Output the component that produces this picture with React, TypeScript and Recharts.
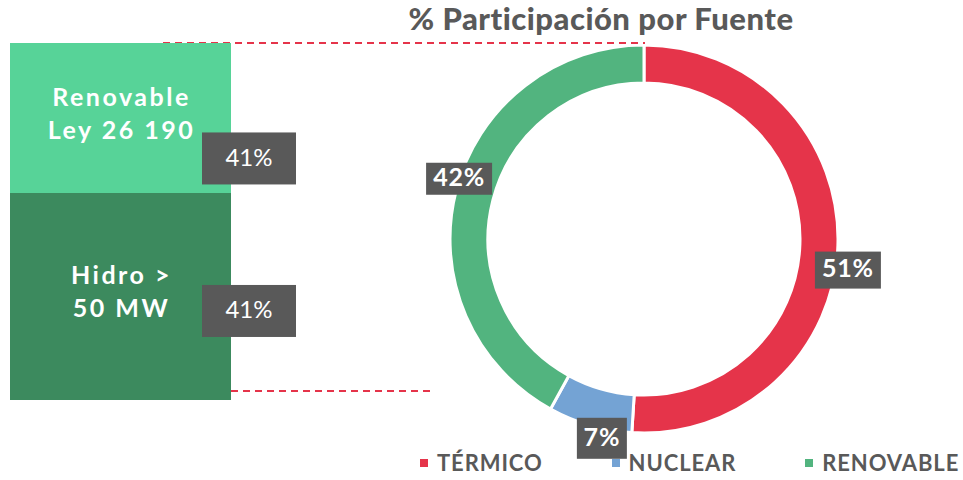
import React from 'react';
import { PieChart, Pie, Cell, Legend, BarChart, Bar, XAxis, YAxis, LabelList } from 'recharts';

// Donut data
const sourceNames = ['TÉRMICO', 'NUCLEAR', 'RENOVABLE'];
const sourceShares = [51, 7, 42];
const sourceColors = ['#E5344A', '#74A3D4', '#52B47F'];

// Left stacked bar (renewable breakdown)
const barCategory = ['Renovable'];
const hidroHeight = [58];
const leyHeight = [42];
const barNames = ['Hidro >|50 MW', 'Renovable|Ley 26 190'];
const barLabels = ['41%', '41%'];
const barColors = ['#3C8A5E', '#57D398'];

const TITLE = '% Participación por Fuente';
const FONT = 'Lato, "Open Sans", sans-serif';
const GRAY = '#595959';

const pieData = sourceNames.map((n, i) => ({ name: n, value: sourceShares[i] }));
const barData = barCategory.map((c, i) => ({ name: c, hidro: hidroHeight[i], ley: leyHeight[i] }));

const RADIAN = Math.PI / 180;
const labelNudge = [
  [10, 25],
  [12, 13],
  [3, -12],
];
const labelBoxH = [37, 41, 32];

const renderPieLabel = (props: any) => {
  const { cx, cy, midAngle, outerRadius, index, value } = props;
  const x = cx + outerRadius * Math.cos(-midAngle * RADIAN) + labelNudge[index][0];
  const y = cy + outerRadius * Math.sin(-midAngle * RADIAN) + labelNudge[index][1];
  const txt = `${value}%`;
  const w = txt.length * 16 + 18;
  const h = labelBoxH[index];
  return (
    <g key={`pl-${index}`}>
      <rect x={x - w / 2} y={y - h / 2} width={w} height={h} fill={GRAY} />
      <text x={x} y={y + 1} fill="#fff" fontSize={25} fontWeight={700} fontFamily={FONT} textAnchor="middle" dominantBaseline="middle" letterSpacing={0.8}>
        {txt}
      </text>
    </g>
  );
};

const makeBarLabel = (segIndex: number, boxFrac: number) => (props: any) => {
  const { x, y, width, height } = props;
  const lines = barNames[segIndex].split('|');
  const cxText = x + width / 2 + 1;
  const cyText = y + height / 2 - 2;
  const bw = 94;
  const bh = 52;
  const bx = x + width - 29;
  const by = y + height * boxFrac - bh / 2;
  return (
    <g>
      {lines.map((l, i) => (
        <text
          key={i}
          x={cxText}
          y={cyText + (i - (lines.length - 1) / 2) * 33}
          fill="#fff"
          fontSize={25}
          fontWeight={700}
          fontFamily={FONT}
          textAnchor="middle"
          dominantBaseline="middle"
          letterSpacing={2.5}
        >
          {l}
        </text>
      ))}
      <rect x={bx} y={by} width={bw} height={bh} fill={GRAY} />
      <text x={bx + bw / 2} y={by + bh / 2 + 1} fill="#fff" fontSize={24} fontWeight={400} fontFamily={FONT} textAnchor="middle" dominantBaseline="middle">
        {barLabels[segIndex]}
      </text>
    </g>
  );
};

const renderLegend = () => (
  <div style={{ display: 'flex', alignItems: 'center', fontFamily: FONT }}>
    {sourceNames.map((n, i) => (
      <div key={n} style={{ display: 'flex', alignItems: 'center', marginRight: 69 }}>
        <div style={{ width: 8, height: 8, background: sourceColors[i], marginRight: 9 }} />
        <span style={{ color: GRAY, fontSize: 22, fontWeight: 700, lineHeight: '24px', letterSpacing: 0.9 }}>{n}</span>
      </div>
    ))}
  </div>
);

export default function App() {
  return (
    <div style={{ position: 'absolute', left: 0, top: 0, width: 963, height: 480, background: '#fff', overflow: 'hidden' }}>
      <PieChart width={963} height={480} margin={{ top: 0, right: 0, bottom: 0, left: 0 }} style={{ position: 'absolute', left: 0, top: 0 }}>
        <Pie
          data={pieData}
          dataKey="value"
          nameKey="name"
          cx={644}
          cy={239}
          outerRadius={194}
          innerRadius={156}
          startAngle={90}
          endAngle={-270}
          stroke="#fff"
          strokeWidth={3}
          label={renderPieLabel}
          labelLine={false}
          isAnimationActive={false}
        >
          {pieData.map((d, i) => (
            <Cell key={d.name} fill={sourceColors[i]} />
          ))}
        </Pie>
        <Legend content={renderLegend} wrapperStyle={{ left: 420, top: 451, width: 560, bottom: 'auto' }} />
      </PieChart>

      <svg width={963} height={480} style={{ position: 'absolute', left: 0, top: 0, pointerEvents: 'none' }}>
        <line x1={163} y1={43} x2={645} y2={43} stroke="#E5344A" strokeWidth={2} strokeDasharray="7 5" />
        <line x1={231} y1={391} x2={433} y2={391} stroke="#E5344A" strokeWidth={2} strokeDasharray="7 5" />
      </svg>

      <div style={{ position: 'absolute', left: 10, top: 43 }}>
        <BarChart width={300} height={357} data={barData} margin={{ top: 0, right: 79, bottom: 0, left: 0 }} barCategoryGap={0}>
          <XAxis dataKey="name" hide />
          <YAxis hide domain={[0, 100]} />
          <Bar dataKey="hidro" stackId="a" fill={barColors[0]} isAnimationActive={false}>
            <LabelList dataKey="hidro" content={makeBarLabel(0, 0.57)} />
          </Bar>
          <Bar dataKey="ley" stackId="a" fill={barColors[1]} isAnimationActive={false}>
            <LabelList dataKey="ley" content={makeBarLabel(1, 0.77)} />
          </Bar>
        </BarChart>
      </div>

      <div
        style={{
          position: 'absolute',
          left: 301,
          top: 0,
          width: 600,
          textAlign: 'center',
          fontFamily: FONT,
          fontWeight: 900,
          fontSize: 31,
          letterSpacing: 0.5,
          color: GRAY,
          lineHeight: '36px',
        }}
      >
        {TITLE}
      </div>
    </div>
  );
}
